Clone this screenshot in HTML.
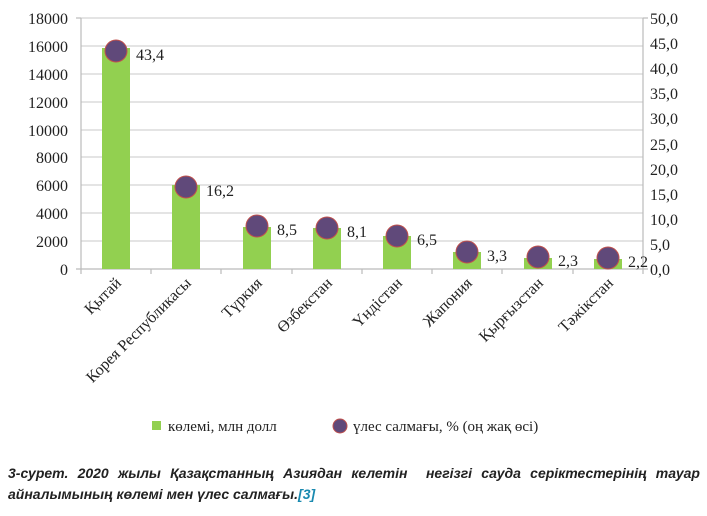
<!DOCTYPE html>
<html><head><meta charset="utf-8"><style>
body{margin:0;background:#fff;width:707px;height:516px;overflow:hidden;position:relative}
svg{position:absolute;left:0;top:0}
.cap{position:absolute;left:8px;top:463px;width:692px;font:italic bold 14px "Liberation Sans",sans-serif;color:#222;line-height:21px;text-align:justify;text-align-last:left}
.cap span{color:#1a8ab0}
</style></head><body>
<svg width="707" height="516" font-family="Liberation Serif, serif" font-size="16" fill="#222">
<g stroke="#c8c8c8" stroke-width="1">
<line x1="81" x2="643" y1="18" y2="18"/><line x1="81" x2="643" y1="46" y2="46"/>
<line x1="81" x2="643" y1="74" y2="74"/><line x1="81" x2="643" y1="102" y2="102"/>
<line x1="81" x2="643" y1="130" y2="130"/><line x1="81" x2="643" y1="157" y2="157"/>
<line x1="81" x2="643" y1="185" y2="185"/><line x1="81" x2="643" y1="213" y2="213"/>
<line x1="81" x2="643" y1="241" y2="241"/>
</g>
<g stroke="#bbb" stroke-width="1.2">
<line x1="81" x2="81" y1="18" y2="269"/><line x1="643" x2="643" y1="18" y2="274"/>
<line x1="76" x2="648" y1="269" y2="269"/>
<line x1="81" x2="81" y1="269" y2="274"/><line x1="151" x2="151" y1="269" y2="274"/>
<line x1="221" x2="221" y1="269" y2="274"/><line x1="292" x2="292" y1="269" y2="274"/>
<line x1="362" x2="362" y1="269" y2="274"/><line x1="432" x2="432" y1="269" y2="274"/>
<line x1="502" x2="502" y1="269" y2="274"/><line x1="573" x2="573" y1="269" y2="274"/>
<line x1="76" x2="81" y1="18" y2="18"/><line x1="643" x2="648" y1="18" y2="18"/>
</g>
<g text-anchor="end">
<text x="68" y="24">18000</text><text x="68" y="52">16000</text><text x="68" y="80">14000</text>
<text x="68" y="108">12000</text><text x="68" y="136">10000</text><text x="68" y="163">8000</text>
<text x="68" y="191">6000</text><text x="68" y="219">4000</text><text x="68" y="247">2000</text>
<text x="68" y="275">0</text>
</g>
<g>
<text x="650" y="24">50,0</text><text x="650" y="49">45,0</text><text x="650" y="74">40,0</text>
<text x="650" y="99">35,0</text><text x="650" y="124">30,0</text><text x="650" y="150">25,0</text>
<text x="650" y="175">20,0</text><text x="650" y="200">15,0</text><text x="650" y="225">10,0</text>
<text x="650" y="250">5,0</text><text x="650" y="275">0,0</text>
</g>
<g fill="#92d050">
<rect x="102" y="48" width="28" height="221"/><rect x="172" y="185" width="28" height="84"/>
<rect x="243" y="227" width="28" height="42"/><rect x="313" y="228" width="28" height="41"/>
<rect x="383" y="236" width="28" height="33"/><rect x="453" y="252" width="28" height="17"/>
<rect x="524" y="258" width="28" height="11"/><rect x="594" y="259" width="28" height="10"/>
</g>
<g fill="#60497a" stroke="#c0504d" stroke-width="1">
<circle cx="116" cy="51" r="11"/><circle cx="186" cy="187" r="11"/>
<circle cx="257" cy="226" r="11"/><circle cx="327" cy="228" r="11"/>
<circle cx="397" cy="236" r="11"/><circle cx="467" cy="252" r="11"/>
<circle cx="538" cy="257" r="11"/><circle cx="608" cy="258" r="11"/>
</g>
<g>
<text x="136" y="60">43,4</text><text x="206" y="196">16,2</text><text x="277" y="235">8,5</text>
<text x="347" y="237">8,1</text><text x="417" y="245">6,5</text><text x="487" y="261">3,3</text>
<text x="558" y="266">2,3</text><text x="628" y="267">2,2</text>
</g>
<g text-anchor="end">
<text transform="translate(122,284) rotate(-45)">Қытай</text>
<text transform="translate(192,284) rotate(-45)">Корея Республикасы</text>
<text transform="translate(263,284) rotate(-45)">Түркия</text>
<text transform="translate(333,284) rotate(-45)">Өзбекстан</text>
<text transform="translate(403,284) rotate(-45)">Үндістан</text>
<text transform="translate(473,284) rotate(-45)">Жапония</text>
<text transform="translate(544,284) rotate(-45)">Қырғызстан</text>
<text transform="translate(614,284) rotate(-45)">Тәжікстан</text>
</g>
<rect x="152" y="421" width="9" height="9" fill="#92d050"/>
<text x="168" y="431" font-size="15">көлемі, млн долл</text>
<circle cx="340" cy="426" r="7" fill="#60497a" stroke="#c0504d"/>
<text x="353" y="431" font-size="15">үлес салмағы, % (оң жақ өсі)</text>
</svg>
<div class="cap">3-сурет. 2020 жылы Қазақстанның Азиядан келетін&nbsp; негізгі сауда серіктестерінің тауар айналымының көлемі мен үлес салмағы.<span>[3]</span></div>
</body></html>
